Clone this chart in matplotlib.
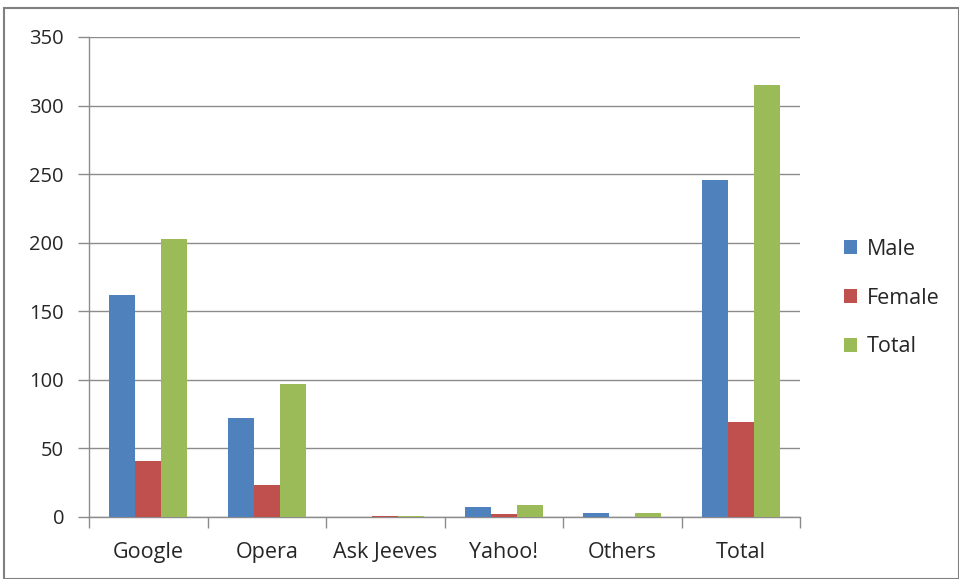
import matplotlib
matplotlib.use("Agg")
import matplotlib.pyplot as plt
import numpy as np
from matplotlib.patches import Rectangle

categories = ["Google", "Opera", "Ask Jeeves", "Yahoo!", "Others", "Total"]
male = [162, 72, 0, 7, 3, 246]
female = [41, 23, 1, 2, 0, 69]
total = [203, 97, 1, 9, 3, 315]
series = ["Male", "Female", "Total"]
colors = ["#4f81bd", "#c0504d", "#9bbb59"]

plt.rcParams['font.family'] = ['Open Sans', 'DejaVu Sans']
W, H = 959, 579
fig = plt.figure(figsize=(W/100, H/100), dpi=100)
ax = fig.add_axes([89/W, 1-517/H, (800-89)/W, (517-37)/H])

x = np.arange(len(categories))
bw = 0.22
for i, (vals, c, name) in enumerate(zip([male, female, total], colors, series)):
    ax.bar(x + (i-1)*bw, vals, bw, color=c, label=name, zorder=3)

ax.set_xlim(-0.5, len(categories)-0.5)
ax.set_ylim(0, 350)
ax.set_yticks(np.arange(0, 351, 50))
ax.yaxis.grid(True, color="#8c8c8c", linewidth=1.0, zorder=0)
ax.set_xticks(x)
ax.set_xticklabels(categories, fontsize=15.5, color="#262626")
ax.tick_params(axis='x', length=0, pad=18)
ax.set_xticks(np.arange(-0.5, len(categories)), minor=True)
ax.tick_params(axis='x', which='minor', length=8, color="#8c8c8c", width=1)
ax.tick_params(axis='y', length=8, color="#8c8c8c", width=1, labelsize=14.5, pad=10, labelcolor="#262626")
for s in ["top", "right"]:
    ax.spines[s].set_visible(False)
for s in ["left", "bottom"]:
    ax.spines[s].set_color("#8c8c8c")
    ax.spines[s].set_linewidth(1)

leg = fig.legend(loc="center left", bbox_to_anchor=(825/W, 1-298/H), frameon=False,
                 prop={'size': 15.5}, handlelength=0.6, handleheight=0.6, labelspacing=1.3,
                 handletextpad=0.45, labelcolor="#262626")

fig.patches.append(Rectangle((4/W, 0), (W-4)/W, 1-8/H, transform=fig.transFigure,
                             fill=False, edgecolor="#808080", linewidth=1.5))
fig.savefig("out.png", dpi=100)
